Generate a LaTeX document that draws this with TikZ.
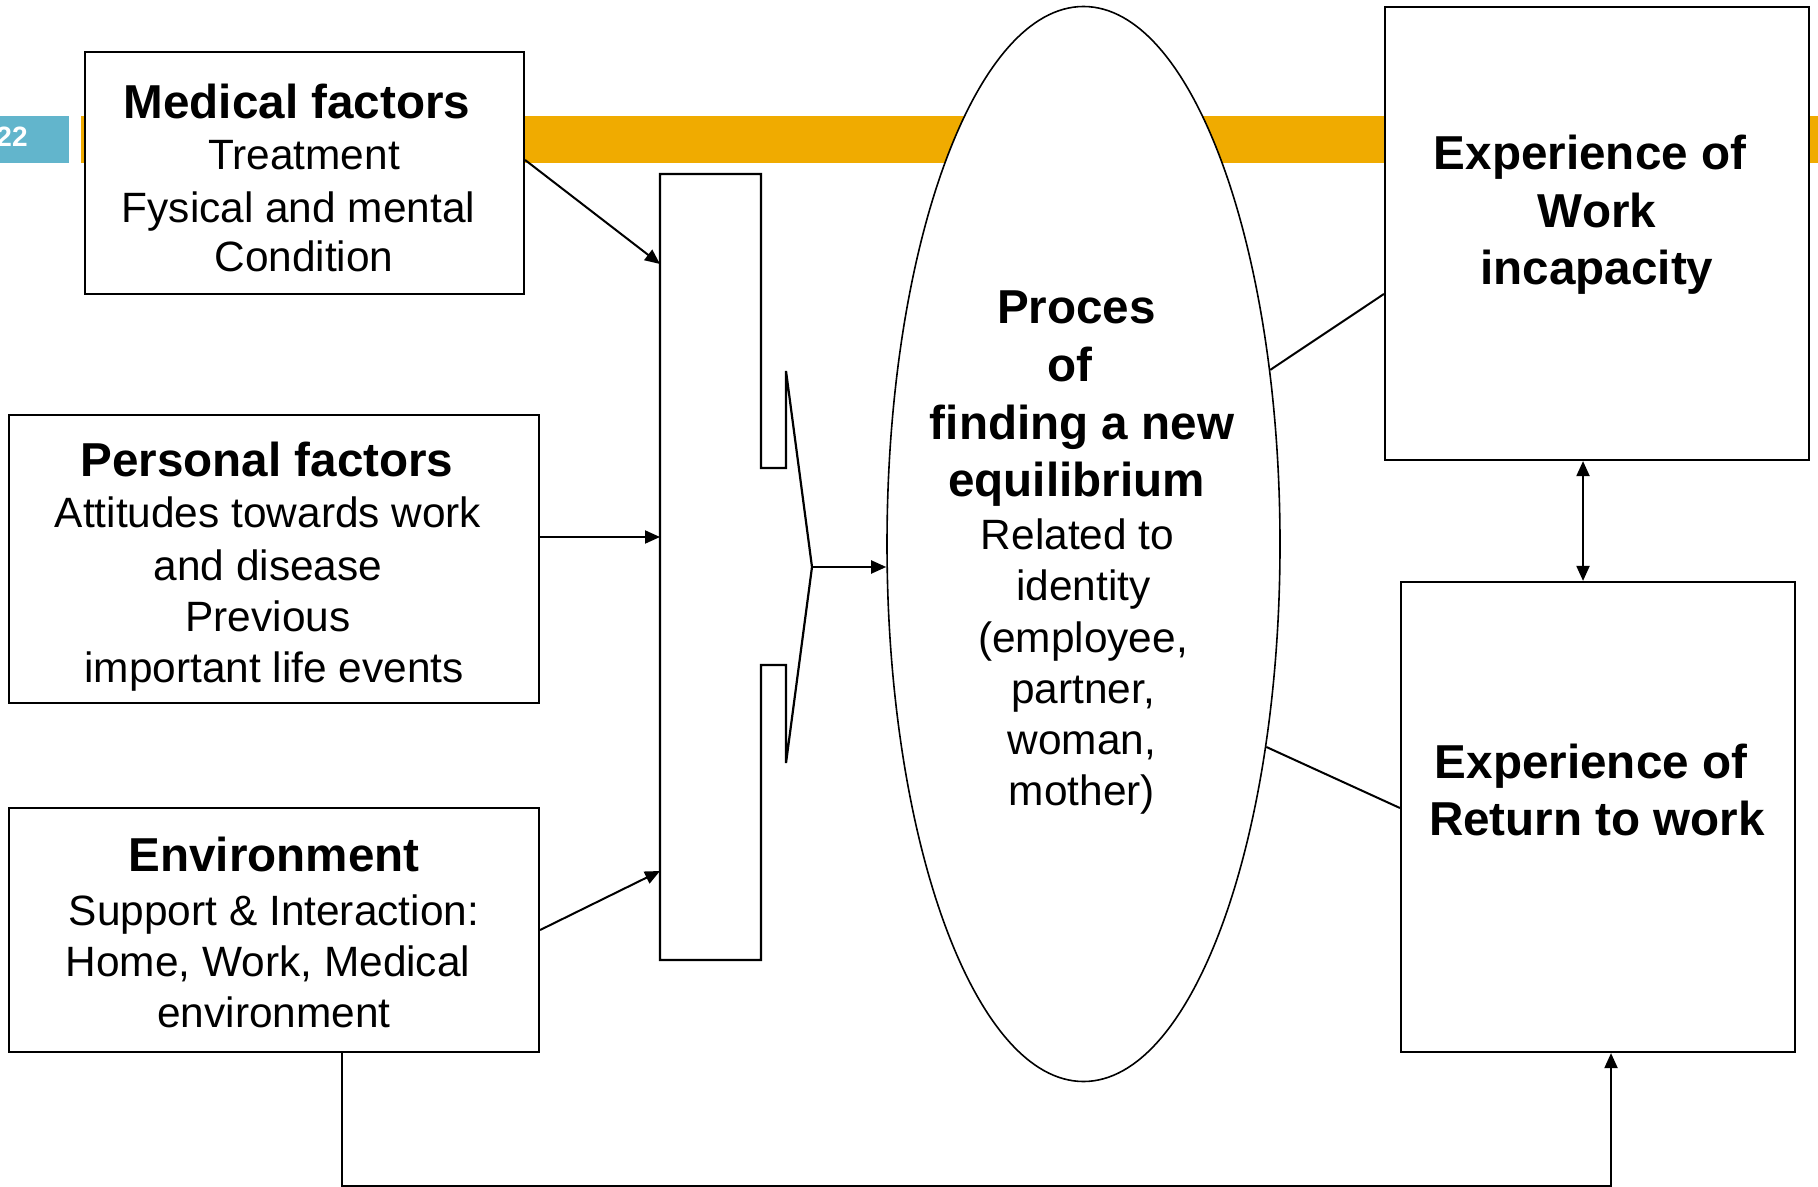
\documentclass[tikz,border=0pt]{standalone}
\usepackage{fontspec}
\setmainfont{Liberation Sans}
\usetikzlibrary{arrows.meta,fit,shapes.geometric,calc}
\definecolor{barorange}{HTML}{F0AB00}
\definecolor{badgeblue}{HTML}{62B5CC}
\begin{document}
\begin{tikzpicture}[x=0.5pt,y=-0.5pt,
  box/.style={draw, line width=1.1pt, fill=white, inner sep=0pt},
  title/.style={anchor=base, inner sep=0pt, font=\bfseries\fontsize{23.8}{28}\selectfont},
  body/.style={anchor=base, inner sep=0pt, font=\fontsize{21.2}{25}\selectfont},
  conn/.style={line width=1pt},
  tipshape/.style={},
  arr/.style={conn, -{Triangle[length=7.5pt,width=6.5pt]}},
  arrboth/.style={conn, {Triangle[length=7.5pt,width=6.5pt]}-{Triangle[length=7.5pt,width=6.5pt]}}]
\useasboundingbox (0,0) rectangle (1818,1187);
\fill[white] (0,0) rectangle (1818,1187);

% header bar with page number
\fill[badgeblue] (0,116) rectangle (69,163);
\node[anchor=base east, inner sep=0pt, text=white,
      font=\bfseries\fontsize{14}{16}\selectfont] (pagenum) at (28,147) {22};
\fill[barorange] (81,116) rectangle (1818,163);

% factor boxes
\node[box, fit={(85,52) (524,294)}] (med) {};
\node[box, fit={(9,415) (539,703)}] (pers) {};
\node[box, fit={(9,808) (539,1052)}] (env) {};
\node[box, fit={(1385,7) (1809,460)}] (wtop) {};
\node[box, fit={(1401,582) (1795,1052)}] (ret) {};

% central process
\node[draw, ellipse, line width=0.8pt, fill=white, inner sep=0pt,
      minimum width=196.5pt, minimum height=537.5pt] (ell) at (1083.5,544) {};

% collecting bracket
\coordinate (tip) at (812,567);
\draw[line width=1.1pt, fill=white, line join=miter]
  (660,174) -- (761,174) -- (761,468) -- (786,468) -- (786,371) -- (tip)
  -- (786,763) -- (786,665) -- (761,665) -- (761,960) -- (660,960) -- cycle;
\coordinate (inMed) at (660,264);
\coordinate (inPers) at (660,537);
\coordinate (inEnv) at (660,871);

% connectors
\draw[arr] ([yshift=6.5pt]med.east) -- (inMed);
\draw[arr] (inPers -| pers.east) -- (inPers);
\draw[arr] (env.east) -- (inEnv);
\draw[arr] (tip) -- (tip -| ell.west);
\draw[conn] (ell.43.8) -- ([yshift=-30.25pt]wtop.west);
\draw[conn] (ell.-48.5) -- ([yshift=4.5pt]ret.west);
\draw[arrboth] ([xshift=-7pt]wtop.south) -- ([xshift=-7pt]wtop.south |- ret.north);
\draw[arr] ([xshift=34pt]env.south) -- ++(0,133) -| ([xshift=6.5pt]ret.south);

% medical factors
\node[title] (medT) at (297,119) {Medical factors};
\node[body] (med1) at (304,170) {Treatment};
\node[body] (med2) at (298.5,223) {Fysical and mental};
\node[body] (med3) at (304,272) {Condition};

% personal factors
\node[title] (persT) at (267,476) {Personal factors};
\node[body] (pers1) at (268,527) {Attitudes towards work};
\node[body] (pers2) at (268,580) {and disease};
\node[body] (pers3) at (268,631) {Previous};
\node[body] (pers4) at (274,682) {important life events};

% environment
\node[title] (envT) at (274,871) {Environment};
\node[body] (env1) at (274,925) {Support \& Interaction:};
\node[body] (env2) at (268,976) {Home, Work, Medical};
\node[body] (env3) at (274,1027) {environment};

% process text
\node[title] (ellT1) at (1076.5,323) {Proces};
\node[title] (ellT2) at (1069.5,381) {of};
\node[title] (ellT3) at (1082,439) {finding a new};
\node[title] (ellT4) at (1076.5,496) {equilibrium};
\node[body] (ell1) at (1077.5,549) {Related to};
\node[body] (ell2) at (1083.5,600) {identity};
\node[body] (ell3) at (1083,652) {(employee,};
\node[body] (ell4) at (1083,703) {partner,};
\node[body] (ell5) at (1082,754) {woman,};
\node[body] (ell6) at (1082,805) {mother)};

% outcome boxes
\node[title] (wtop1) at (1590,170) {Experience of};
\node[title] (wtop2) at (1597,228) {Work};
\node[title] (wtop3) at (1597,285) {incapacity};
\node[title] (ret1) at (1591,778) {Experience of};
\node[title] (ret2) at (1597,835) {Return to work};
\end{tikzpicture}
\end{document}
